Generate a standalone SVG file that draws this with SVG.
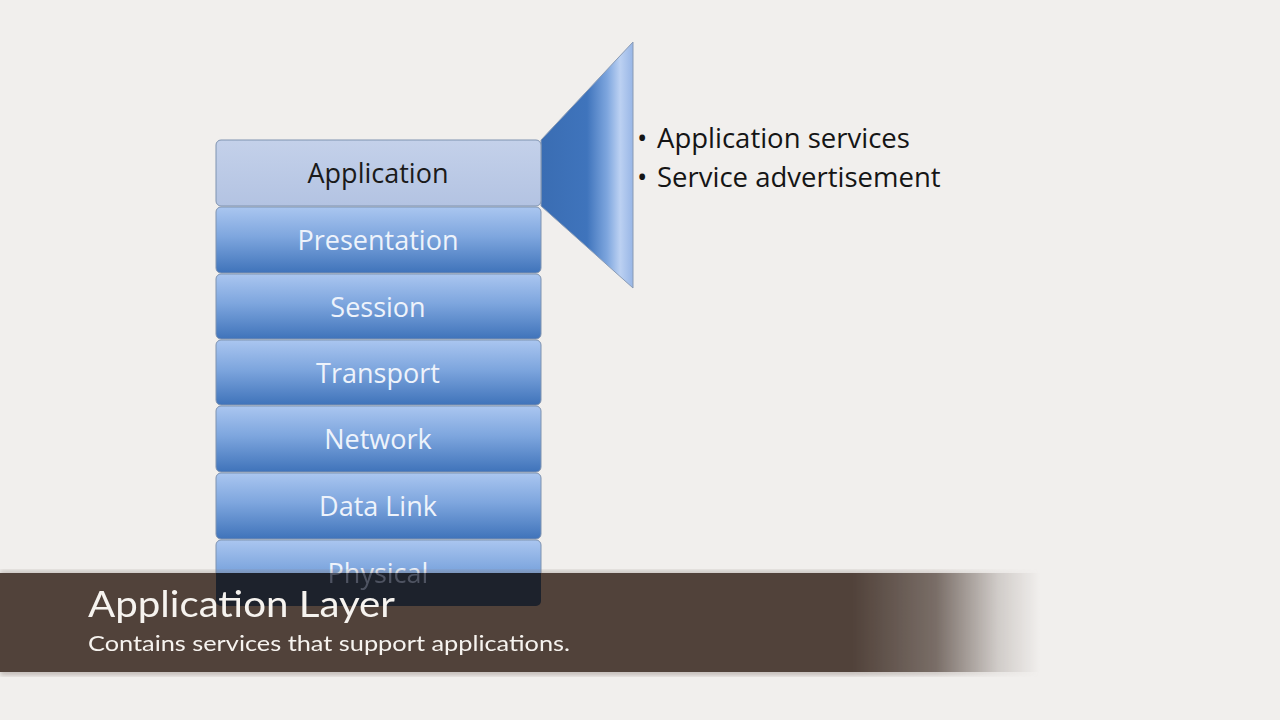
<svg xmlns="http://www.w3.org/2000/svg" width="1280" height="720" viewBox="0 0 1280 720">
<defs>
<linearGradient id="layer" x1="0" y1="0" x2="0" y2="1">
<stop offset="0" stop-color="#aac6f0"/>
<stop offset="0.45" stop-color="#7ea6de"/>
<stop offset="1" stop-color="#3f73ba"/>
</linearGradient>
<linearGradient id="app" x1="0" y1="0" x2="0" y2="1">
<stop offset="0" stop-color="#c4d1ea"/>
<stop offset="1" stop-color="#b3c3e2"/>
</linearGradient>
<linearGradient id="funnel" x1="541" y1="0" x2="633" y2="0" gradientUnits="userSpaceOnUse">
<stop offset="0" stop-color="#3a6db3"/>
<stop offset="0.5" stop-color="#3f74bc"/>
<stop offset="0.72" stop-color="#7ea6de"/>
<stop offset="0.86" stop-color="#bcd1f2"/>
<stop offset="1" stop-color="#98b6e6"/>
</linearGradient>
<linearGradient id="fade" x1="0" y1="0" x2="1040" y2="0" gradientUnits="userSpaceOnUse">
<stop offset="0" stop-color="#fff"/>
<stop offset="0.82" stop-color="#fff"/>
<stop offset="0.9" stop-color="#fff" stop-opacity="0.75"/>
<stop offset="0.96" stop-color="#fff" stop-opacity="0.2"/>
<stop offset="1" stop-color="#fff" stop-opacity="0"/>
</linearGradient>
<mask id="bannerMask" maskUnits="userSpaceOnUse" x="0" y="550" width="1280" height="150">
<rect x="0" y="550" width="1280" height="150" fill="url(#fade)"/>
</mask>
<clipPath id="inBanner"><rect x="0" y="573" width="1280" height="100"/></clipPath>
<clipPath id="aboveBanner"><rect x="0" y="0" width="1280" height="573"/></clipPath>
<filter id="soft" x="-5%" y="-30%" width="110%" height="160%"><feGaussianBlur stdDeviation="2.5"/></filter>
</defs>
<style>
.box{stroke:#7f93b0;stroke-width:1}
.lbl{font-family:"Open Sans","Noto Sans",sans-serif;font-size:27px;fill:#eef3fb;text-anchor:middle}
.dark{fill:#1a1a1a}
.bul{font-family:"Open Sans","Noto Sans",sans-serif;font-size:27.5px;fill:#151515}
.ttl{font-family:"Lato","Noto Sans",sans-serif;fill:#f6f3ef}
</style>
<rect width="1280" height="720" fill="#f1efed"/>

<g id="funnel-shape">
<polygon points="541,140 633,42 633,288 541,206" fill="url(#funnel)" stroke="#8a9bb5" stroke-width="1"/>
</g>

<g id="application">
<rect class="box" x="216" y="140" width="325" height="66" rx="5" fill="url(#app)"/>
<text class="lbl dark" x="378" y="183">Application</text>
</g>
<g id="presentation">
<rect class="box" x="216" y="207" width="325" height="66" rx="5" fill="url(#layer)"/>
<text class="lbl" x="378" y="250">Presentation</text>
</g>
<g id="session">
<rect class="box" x="216" y="274" width="325" height="65" rx="5" fill="url(#layer)"/>
<text class="lbl" x="378" y="317">Session</text>
</g>
<g id="transport">
<rect class="box" x="216" y="340" width="325" height="65" rx="5" fill="url(#layer)"/>
<text class="lbl" x="378" y="383">Transport</text>
</g>
<g id="network">
<rect class="box" x="216" y="406" width="325" height="66" rx="5" fill="url(#layer)"/>
<text class="lbl" x="378" y="449">Network</text>
</g>
<g id="datalink">
<rect class="box" x="216" y="473" width="325" height="66" rx="5" fill="url(#layer)"/>
<text class="lbl" x="378" y="516">Data Link</text>
</g>
<g id="physical">
<g clip-path="url(#aboveBanner)">
<rect class="box" x="216" y="540" width="325" height="66" rx="5" fill="url(#layer)"/>
<text class="lbl" x="378" y="583">Physical</text>
</g>
</g>

<g id="bullets">
<text class="bul" x="637" y="148">•</text>
<text class="bul" x="657" y="148">Application services</text>
<text class="bul" x="637" y="187">•</text>
<text class="bul" x="657" y="187">Service advertisement</text>
</g>

<g id="banner-bar">
<g mask="url(#bannerMask)">
<rect x="0" y="571" width="1040" height="4" fill="#8a7e76" opacity="0.5" filter="url(#soft)"/>
<rect x="0" y="669" width="1040" height="6" fill="#8a7e76" opacity="0.5" filter="url(#soft)"/>
<rect x="0" y="573" width="1040" height="99" fill="#51423a"/>
</g>
<g clip-path="url(#inBanner)">
<rect x="216" y="540" width="325" height="66" rx="5" fill="#1d222c"/>
<text class="lbl" x="378" y="583" style="fill:#4e5361">Physical</text>
</g>
<text class="ttl" x="88" y="617" font-size="36" textLength="307" lengthAdjust="spacingAndGlyphs">Application Layer</text>
<text class="ttl" x="88" y="651" font-size="22" textLength="482" lengthAdjust="spacingAndGlyphs">Contains services that support applications.</text>
</g>
</svg>
